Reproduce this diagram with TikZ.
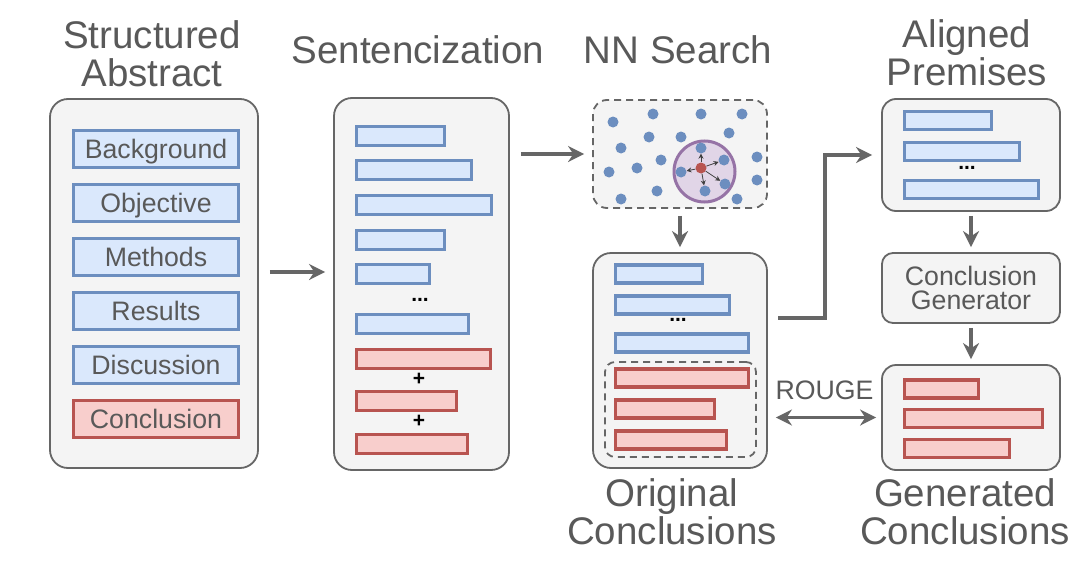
\documentclass[tikz,border=0pt]{standalone}
\usepackage{fontspec}
\setmainfont{Liberation Sans}
\usetikzlibrary{arrows.meta}
\definecolor{box_fill}{HTML}{F4F4F4}
\definecolor{box_line}{HTML}{666666}
\definecolor{txt_gray}{HTML}{595959}
\definecolor{sec_blue}{HTML}{DAE8FC}
\definecolor{sec_blueline}{HTML}{6C8EBF}
\definecolor{sec_red}{HTML}{F8CECC}
\definecolor{sec_redline}{HTML}{B85450}
\definecolor{nn_purple}{HTML}{E1D5E7}
\definecolor{nn_purpleline}{HTML}{9673A6}

\tikzset{
  panel/.style={draw=box_line, fill=box_fill, line width=1.8pt, rounded corners=18pt, inner sep=0pt},
  title/.style={text=txt_gray, font=\fontsize{38.5}{38}\selectfont, align=center, inner sep=0pt},
  label/.style={text=txt_gray, font=\fontsize{26.7}{24.5}\selectfont, align=center, inner sep=0pt},
  bar/.style={line width=3.2pt, minimum height=18pt, inner sep=0pt, anchor=west},
  bluebar/.style={bar, draw=sec_blueline, fill=sec_blue},
  redbar/.style={bar, draw=sec_redline, fill=sec_red},
  sec/.style={label, line width=3.2pt, minimum width=165pt, minimum height=37pt, text height=18pt, text depth=0pt},
  dot/.style={circle, fill=sec_blueline, minimum size=11pt, inner sep=0pt},
  sign/.style={font=\fontsize{21}{21}\selectfont\bfseries, inner sep=0pt},
  spoke/.style={draw=black!75, line width=0.8pt, -{Stealth[length=5pt,width=5pt]}},
  flow/.style={draw=box_line, line width=3.6pt, -{Stealth[length=16pt,width=16pt]}},
  both/.style={draw=box_line, line width=3.6pt, {Stealth[length=16pt,width=16pt]}-{Stealth[length=16pt,width=16pt]}}
}

\begin{document}
\begin{tikzpicture}[x=1pt, y=-1pt]
    % Canvas 1090 x 570
    \fill[white] (0,0) rectangle (1090,570);
    \useasboundingbox (0,0) rectangle (1090,570);

    % Titles
    \node[title] (t_abs) at (152,54) {Structured\\Abstract};
    \node[title] (t_sent) at (418,50) {Sentencization};
    \node[title] (t_nn) at (678,50) {NN Search};
    \node[title] (t_align) at (967,53) {Aligned\\Premises};
    \node[title] (t_orig) at (672,512) {Original\\Conclusions};
    \node[title] (t_out) at (965,512) {Generated\\Conclusions};

    % Panels
    \node[panel, minimum width=208pt, minimum height=369pt] (abs) at (154,283.5) {};
    \node[panel, minimum width=175pt, minimum height=372pt] (sent) at (421.5,284) {};
    \node[panel, dash pattern=on 7pt off 5pt, rounded corners=14pt,
          minimum width=174pt, minimum height=108pt] (nn) at (680,154) {};
    \node[panel, minimum width=174pt, minimum height=215pt] (orig) at (680,360.5) {};
    \node[panel, rounded corners=14pt, minimum width=178pt, minimum height=112pt] (align) at (971,155) {};
    \node[panel, label, rounded corners=11pt, minimum width=178pt, minimum height=70pt]
      (gen) at (971,288) {Conclusion\\Generator};
    \node[panel, rounded corners=14pt, minimum width=178pt, minimum height=105pt] (out) at (971,417.5) {};

    % Sections of the structured abstract
    \foreach \t/\y [count=\i] in {Background/149, Objective/203, Methods/257, Results/311, Discussion/365} {
      \node[sec, draw=sec_blueline, fill=sec_blue] (sec\i) at (156,\y) {\t};
    }
    \node[sec, draw=sec_redline, fill=sec_red] (sec6) at (156,419) {Conclusion};

    % Sentences
    \foreach \y/\r [count=\i] in {136/444, 170/471, 205/491, 240/444, 274/429, 324/468} {
      \node[bluebar, minimum height=19pt, minimum width={\r-356}] (s\i) at (354.5,\y) {};
    }
    \foreach \y/\r [count=\i] in {359/490, 401/456, 444/467} {
      \node[redbar, minimum height=19pt, minimum width={\r-356}] (c\i) at (354.5,\y) {};
    }
    \node[sign] (s_dots) at (420,300) {...};
    \node[sign] (plus1) at (419,379) {+};
    \node[sign] (plus2) at (419,421) {+};

    % Nearest neighbour search
    \node[circle, draw=nn_purpleline, fill=nn_purple, line width=3pt, minimum size=61pt, inner sep=0pt]
      (zone) at (704.5,171.5) {};
    \foreach \x/\y [count=\i] in {701/148, 724/160, 725/184, 705/191, 681/172,
        613/122, 653/114, 701/114, 742/114, 649/137, 681/137, 729/133, 621/148,
        757/157, 661/160, 637/168, 609/172, 757/180, 657/191, 621/199, 737/199} {
      \node[dot] (p\i) at (\x,\y) {};
    }
    \node[dot, fill=sec_redline] (q) at (701,168) {};
    \foreach \i in {1,...,5} {
      \draw[spoke] (q) -- (p\i);
    }

    % Original conclusions
    \foreach \y/\r [count=\i] in {274/702, 305/729, 343/748} {
      \node[bluebar, minimum width={\r-615}] (o\i) at (613.5,\y) {};
    }
    \node[sign] (o_dots) at (678,320) {...};
    \node[draw=box_line, line width=1.8pt, dash pattern=on 7pt off 5pt, rounded corners=10pt,
          minimum width=151pt, minimum height=95pt, inner sep=0pt] (o_box) at (680.5,409.5) {};
    \foreach \y/\r [count=\i] in {378/748, 409/714, 440/726} {
      \node[redbar, minimum width={\r-615}] (oc\i) at (613.5,\y) {};
    }

    % Aligned premises
    \foreach \y/\r [count=\i] in {120.5/991, 151.5/1019, 189.5/1038} {
      \node[bluebar, minimum width={\r-904}] (a\i) at (902.5,\y) {};
    }
    \node[sign] (a_dots) at (967,168) {...};

    % Generated conclusions
    \foreach \y/\r [count=\i] in {389/978, 418.5/1042, 448.5/1009} {
      \node[redbar, minimum width={\r-904}] (g\i) at (902.5,\y) {};
    }

    % Flow
    \draw[flow, shorten <=11pt, shorten >=8pt] ([yshift=11.5pt]abs.east) -- ([yshift=12pt]sent.west);
    \draw[flow, shorten <=11pt, shorten >=8pt] (sent.east |- nn.west) -- (nn.west);
    \draw[flow, shorten <=7pt, shorten >=5pt] (nn.south) -- (orig.north);
    \coordinate (o2a) at (778,318);
    \draw[flow, shorten >=9pt] (o2a) -- ++(47,0) |- (align.west);
    \draw[flow, shorten <=4pt, shorten >=5pt] (align.south) -- (gen.north);
    \draw[flow, shorten <=4pt, shorten >=5pt] (gen.south) -- (out.north);
    \draw[both, shorten <=8pt, shorten >=5pt] (orig.east |- out.west) -- (out.west)
      node[label, midway, yshift=27pt] (rouge) {ROUGE};

  \end{tikzpicture}
\end{document}
